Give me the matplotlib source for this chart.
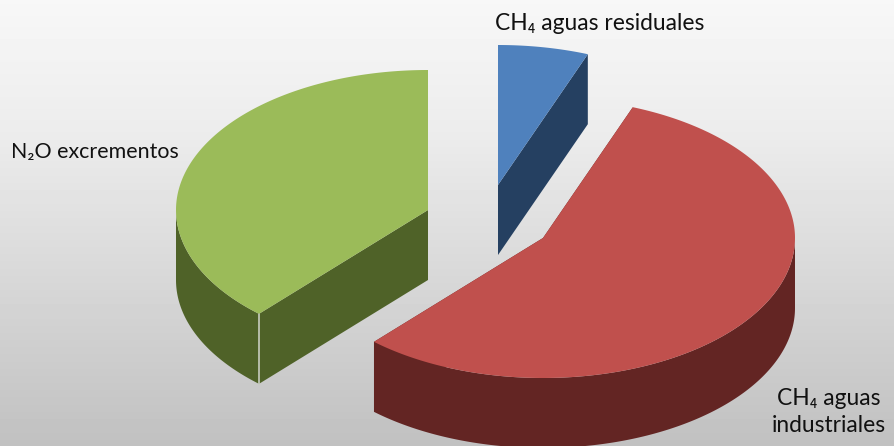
import numpy as np
import matplotlib
matplotlib.use('Agg')
import matplotlib.pyplot as plt

# Sample data
categories = ['CH₄ aguas residuales', 'CH₄ aguas\nindustriales', 'N₂O excrementos']
values = [5.8, 55.9, 38.3]

# Drawing style
top_colors = ['#4F81BD', '#C0504D', '#9BBB59']
wall_colors = ['#254061', '#632523', '#4F6228']
centers = [(498, 185), (543, 238), (428, 210)]
label_pos = [(600, 23), (829, 412), (95, 152)]
label_size = [16.4, 16.4, 15.4]
rx, ry, depth = 252, 140, 70

plt.rcParams['font.family'] = ['Lato', 'DejaVu Sans']

fig = plt.figure(figsize=(8.94, 4.46), dpi=100)
ax = fig.add_axes([0, 0, 1, 1])

# Background gradient
grad = np.interp(np.linspace(0, 1, 446), [0, 0.3, 1], [0.97, 0.925, 0.755]).reshape(-1, 1)
ax.imshow(grad, cmap='gray', vmin=0, vmax=1, extent=[0, 894, 446, 0], aspect='auto', zorder=0)


def rim(cx, cy, a0, a1):
    # angle measured clockwise from the top of the pie
    t = np.radians(np.linspace(a0, a1, 200))
    return cx + rx * np.sin(t), cy - ry * np.cos(t)


edges = np.concatenate([[0], np.cumsum(values)]) / np.sum(values) * 360

for i in range(len(values)):
    a0, a1 = edges[i], edges[i + 1]
    cx, cy = centers[i]
    x, y = rim(cx, cy, a0, a1)

    # cut faces
    for ex, ey in [(x[0], y[0]), (x[-1], y[-1])]:
        ax.fill([cx, ex, ex, cx], [cy, ey, ey + depth, cy + depth],
                color=wall_colors[i], lw=0, zorder=1 + i)

    # outer wall, only the front half of the rim shows
    lo, hi = max(a0, 90), min(a1, 270)
    if lo < hi:
        wx, wy = rim(cx, cy, lo, hi)
        ax.fill(np.r_[wx, wx[::-1]], np.r_[wy, wy[::-1] + depth],
                color=wall_colors[i], lw=0, zorder=1 + i)

    # seam where the cut face meets the rim
    if i == 2:
        ax.plot([x[0], x[0]], [y[0], y[0] + depth], color='#C8CCC0', lw=1.2, zorder=5)

    # top face
    ax.fill(np.r_[cx, x], np.r_[cy, y], color=top_colors[i], lw=0, zorder=6 + i)

    ax.text(label_pos[i][0], label_pos[i][1], categories[i], fontsize=label_size[i], color='#111111',
            ha='center', va='center', linespacing=1.4, zorder=10)

ax.set_xlim(0, 894)
ax.set_ylim(446, 0)
ax.axis('off')

fig.savefig('out.png', dpi=100)
